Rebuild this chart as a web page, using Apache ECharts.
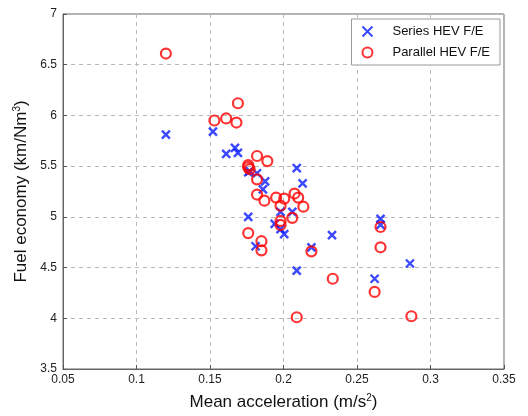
<!DOCTYPE html>
<html>
<head>
<meta charset="utf-8">
<script src="https://cdn.jsdelivr.net/npm/echarts@6/dist/echarts.min.js"></script>
<style>html,body{margin:0;padding:0;background:#fff}#c{width:528px;height:416px}</style>
</head>
<body>
<div id="c"></div>
<script>
// Series HEV F/E: [mean acceleration, fuel economy]
var seriesHEV = [
  [0.120, 5.81], [0.152, 5.84], [0.161, 5.62], [0.167, 5.68], [0.169, 5.63],
  [0.177, 5.45], [0.176, 5.44], [0.182, 5.43], [0.1875, 5.35], [0.186, 5.27],
  [0.176, 5.00], [0.181, 4.71], [0.209, 5.48], [0.213, 5.33], [0.198, 5.05],
  [0.206, 5.05], [0.194, 4.93], [0.198, 4.88], [0.2005, 4.83], [0.209, 4.47],
  [0.233, 4.82], [0.219, 4.70], [0.262, 4.39], [0.266, 4.98], [0.266, 4.92],
  [0.286, 4.54]
];
// Parallel HEV F/E
var parallelHEV = [
  [0.120, 6.61], [0.153, 5.95], [0.161, 5.97], [0.168, 5.93], [0.169, 6.12],
  [0.182, 5.60], [0.189, 5.55], [0.176, 5.51], [0.176, 5.49], [0.177, 5.47],
  [0.182, 5.37], [0.182, 5.22], [0.187, 5.16], [0.176, 4.84], [0.185, 4.76],
  [0.185, 4.67], [0.195, 5.19], [0.2005, 5.18], [0.2075, 5.23], [0.210, 5.19],
  [0.2135, 5.10], [0.198, 5.11], [0.206, 4.99], [0.198, 4.96], [0.198, 4.92],
  [0.219, 4.66], [0.2335, 4.39], [0.262, 4.26], [0.266, 4.90], [0.266, 4.70],
  [0.209, 4.01], [0.287, 4.02]
];
var seriesNames = ['Series HEV F/E', 'Parallel HEV F/E'];
var xTitle = 'Mean acceleration (m/s{sup|2})';
var yTitle = 'Fuel economy (km/Nm{sup|3})';

var font = 'Liberation Sans, Arial, Helvetica, sans-serif';
var chart = echarts.init(document.getElementById('c'));
var gridLine = {show: true, lineStyle: {color: '#b8b8b8', type: [4, 4], width: 1}};
var tickIn = {show: true, inside: true, length: 4, lineStyle: {color: '#555'}};
chart.setOption({
  animation: false,
  backgroundColor: '#fff',
  grid: {left: 63, top: 14, right: 24, bottom: 47, show: true, borderColor: '#666', borderWidth: 1},
  legend: {
    orient: 'vertical', right: 28, top: 19,
    backgroundColor: '#fff', borderColor: '#999', borderWidth: 1,
    padding: [6, 10, 6, 10], itemGap: 8, itemWidth: 40, itemHeight: 10,
    symbolKeepAspect: true,
    textStyle: {fontFamily: font, fontSize: 13, color: '#111'},
    data: seriesNames
  },
  xAxis: {
    type: 'value', min: 0.05, max: 0.35, interval: 0.05,
    name: xTitle, nameLocation: 'middle', nameGap: 24,
    nameTextStyle: {fontFamily: font, fontSize: 17, color: '#111',
      rich: {sup: {fontFamily: font, fontSize: 10, verticalAlign: 'top', padding: [0, 0, 8, 0], color: '#111'}}},
    axisLine: {show: true, lineStyle: {color: '#666'}},
    axisTick: tickIn,
    axisLabel: {fontFamily: font, fontSize: 12, color: '#222', margin: 5},
    splitLine: gridLine
  },
  yAxis: {
    type: 'value', min: 3.5, max: 7, interval: 0.5,
    name: yTitle, nameLocation: 'middle', nameGap: 26, nameRotate: 90,
    nameTextStyle: {fontFamily: font, fontSize: 17, color: '#111',
      rich: {sup: {fontFamily: font, fontSize: 10, verticalAlign: 'top', padding: [0, 0, 8, 0], color: '#111'}}},
    axisLine: {show: true, lineStyle: {color: '#666'}},
    axisTick: tickIn,
    axisLabel: {fontFamily: font, fontSize: 12, color: '#222', margin: 6},
    splitLine: gridLine
  },
  series: [
    {
      name: seriesNames[0], type: 'scatter', data: seriesHEV,
      symbol: 'path://M0,0L10,10M10,0L0,10', symbolSize: 8,
      itemStyle: {color: 'rgba(0,0,0,0)', borderColor: '#0a1cff', borderWidth: 2.4}
    },
    {
      name: seriesNames[1], type: 'scatter', data: parallelHEV,
      symbol: 'circle', symbolSize: 10,
      itemStyle: {color: 'rgba(0,0,0,0)', borderColor: '#ff0000', borderWidth: 2.2}
    }
  ]
});
</script>
</body>
</html>
